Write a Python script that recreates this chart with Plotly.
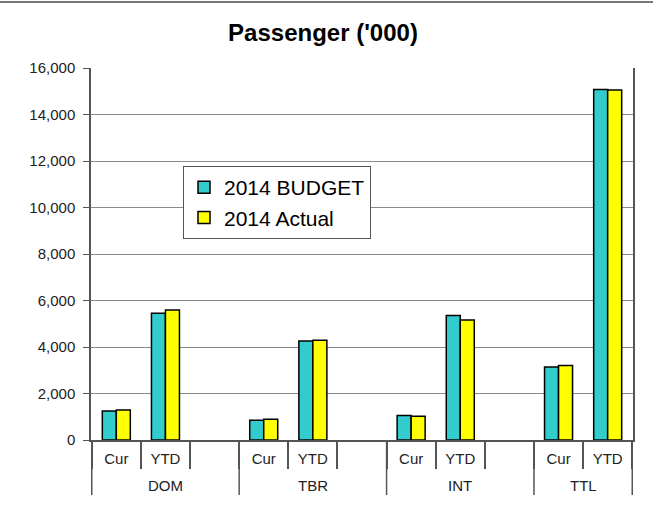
import plotly.graph_objects as go

groups = ["DOM", "TBR", "INT", "TTL"]
periods = ["Cur", "YTD"]
budget_2014 = [1250, 5450, 850, 4260, 1050, 5350, 3140, 15080]
actual_2014 = [1290, 5590, 890, 4290, 1020, 5160, 3200, 15050]
y_ticks = [0, 2000, 4000, 6000, 8000, 10000, 12000, 14000, 16000]

# categories: Cur, YTD and a blank slot per group (none after the last group)
cats, labels, yb, ya = [], [], [], []
group_slots = []
k = 0
for gi, g in enumerate(groups):
    start = len(cats)
    for p in periods:
        cats.append(f"{g}|{p}"); labels.append(p)
        yb.append(budget_2014[k]); ya.append(actual_2014[k])
        k += 1
    if gi < len(groups) - 1:
        cats.append(f"{g}|blank"); labels.append("")
        yb.append(None); ya.append(None)
    group_slots.append((start, len(cats) - 1))

FONT = "Arial, Liberation Sans, sans-serif"

fig = go.Figure()
fig.add_trace(go.Bar(x=cats, y=yb, name="2014 BUDGET",
                     marker=dict(color="#33CCCC", line=dict(color="black", width=1.5))))
fig.add_trace(go.Bar(x=cats, y=ya, name="2014 Actual",
                     marker=dict(color="#FFFF00", line=dict(color="black", width=1.5))))

PLOT_H = 507 - 68 - 67

fig.update_layout(
    width=653, height=507,
    margin=dict(l=91, r=20, t=68, b=67),
    paper_bgcolor="white", plot_bgcolor="white",
    font=dict(family=FONT, color="#222"),
    title=dict(text="<b>Passenger ('000)</b>", x=(323 - 91) / 542, xref="paper",
               xanchor="center", y=1 - 33 / 507, yanchor="middle",
               font=dict(size=24, color="black", family=FONT)),
    barmode="group", bargap=0.43, bargroupgap=0,
    legend=dict(x=(183 - 91) / 542, y=(440 - 166) / PLOT_H, xanchor="left", yanchor="top",
                bgcolor="white", bordercolor="#555", borderwidth=1,
                font=dict(size=21, color="black", family=FONT),
                tracegroupgap=0, itemwidth=30),
    showlegend=True,
)
fig.update_yaxes(range=[0, 16000], tickvals=y_ticks, tickformat=",",
                 showgrid=True, gridcolor="#8a8a8a", gridwidth=1,
                 showline=True, linecolor="#555", linewidth=1.5, mirror=True,
                 ticks="outside", ticklen=6, tickcolor="#555", ticklabelstandoff=5,
                 tickfont=dict(size=15, color="#222"), zeroline=False,
                 automargin=False)
fig.update_xaxes(type="category", categoryorder="array", categoryarray=cats,
                 tickvals=cats, ticktext=labels,
                 showline=True, linecolor="#555", linewidth=1.5,
                 ticks="outside", tickson="boundaries", ticklen=27, tickcolor="#555",
                 tickwidth=1.5, ticklabelstandoff=4,
                 tickfont=dict(size=15, color="#222"), showgrid=False,
                 automargin=False)

# group labels and group dividers beneath the category labels
for g, (s, e) in zip(groups, group_slots):
    fig.add_annotation(x=(s + e) / 2, y=-(486 - 440) / PLOT_H, xref="x", yref="paper",
                       text=g, showarrow=False, yanchor="middle",
                       font=dict(size=15, color="#222", family=FONT))
bounds = [-0.5] + [e + 0.5 for (_, e) in group_slots]
for b in bounds:
    fig.add_shape(type="line", xref="x", yref="paper", x0=b, x1=b,
                  y0=0, y1=-(495 - 440) / PLOT_H,
                  line=dict(color="#555", width=1.5))

fig.add_shape(type="line", xref="paper", yref="paper",
              x0=-91 / 542, x1=(653 - 91) / 542, y0=1 + 66 / PLOT_H, y1=1 + 66 / PLOT_H,
              line=dict(color="#777", width=2))

fig.write_html("out.html", config={"displayModeBar": False},
               post_script="document.body.style.margin='0';document.body.style.overflow='hidden';")
